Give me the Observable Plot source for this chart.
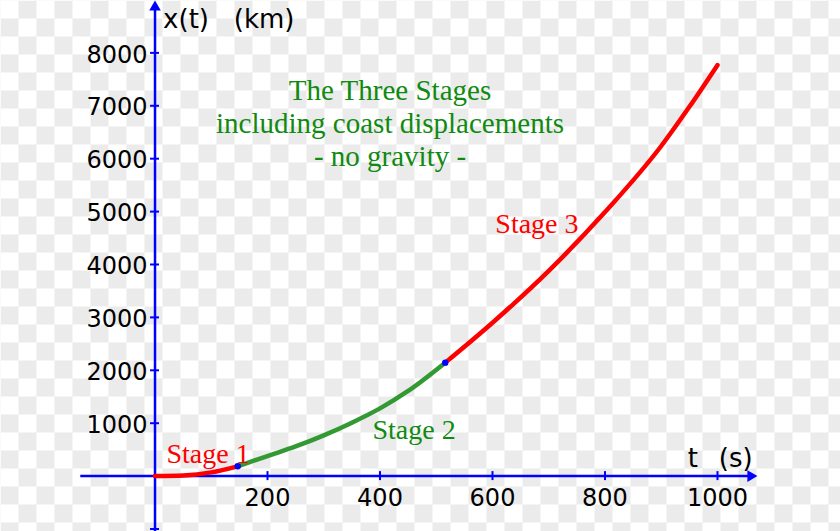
<!DOCTYPE html>
<html><head><meta charset="utf-8">
<script src="https://cdn.jsdelivr.net/npm/d3@7"></script>
<script src="https://cdn.jsdelivr.net/npm/@observablehq/plot@0.6"></script>
<style>
html,body{margin:0;padding:0;background:#ffffff;}
body{width:840px;height:531px;overflow:hidden;}
#chart svg{display:block;}
</style></head><body><div id="chart"></div>
<script>
// ---- data ----
const stage1T = [0, 50, 100, 147];
const stage1X = [0, 12, 70, 185];
const stage2T = [147, 200, 250, 300, 350, 400, 450, 516];
const stage2X = [185, 380, 560, 770, 1010, 1280, 1610, 2145];
const stage3T = [516, 600, 700, 800, 900, 950, 1000];
const stage3X = [2145, 2900, 3880, 4990, 6240, 6980, 7770];
const xTickValues = [200, 400, 600, 800, 1000];
const yTickValues = [-1000, 1000, 2000, 3000, 4000, 5000, 6000, 7000, 8000];
const yTickLabels = [1000, 2000, 3000, 4000, 5000, 6000, 7000, 8000];
const titleLines = ["The Three Stages", "including coast displacements", "- no gravity -"];
const stageNames = ["Stage 1", "Stage 2", "Stage 3"];

const toRows = (T, X) => T.map((t, i) => ({t, x: X[i]}));
const s1 = toRows(stage1T, stage1X);
const s2 = toRows(stage2T, stage2X);
const s3 = toRows(stage3T, stage3X);
const joints = [s1[s1.length - 1], s3[0]];

const BLUE = "#0000ff", RED = "#ff0000", GREEN_LINE = "#339933", GREEN_TEXT = "#108a10";
const SANS = "DejaVu Sans, Verdana, sans-serif";
const SERIF = "Liberation Serif, Times New Roman, serif";

const chart = Plot.plot({
  width: 840, height: 531,
  margin: 0,
  x: {domain: [-274.7, 1218.7], axis: null},
  y: {domain: [-1047, 8990], axis: null},
  style: {background: "#ffffff", fontFamily: SANS},
  marks: [
    // transparent-image checkerboard backdrop
    Plot.frame({fill: "url(#checker-bg)", stroke: "none"}),
    // axes
    Plot.ruleY([0], {x1: -132, x2: 1062, stroke: BLUE, strokeWidth: 2.5}),
    Plot.ruleX([0], {y1: -1047, y2: 8850, stroke: BLUE, strokeWidth: 2.5}),
    Plot.dot([0], {x: 1071, y: 0, symbol: "triangle", r: 4.3, fill: BLUE, rotate: 90, dx: -6.7}),
    Plot.dot([0], {x: 0, y: 8990, symbol: "triangle", r: 4.3, fill: BLUE, dy: 6.7}),
    // ticks
    Plot.ruleX(xTickValues, {x: d => d, y1: 0, y2: 0, insetTop: -4.5, insetBottom: -4.5, stroke: BLUE, strokeWidth: 2}),
    Plot.ruleY(yTickValues, {y: d => d, x1: 0, x2: 0, insetLeft: -4.5, insetRight: -4.5, stroke: BLUE, strokeWidth: 2}),
    // tick labels
    Plot.text(xTickValues, {x: d => d, y: 0, text: d => String(d), dy: 30, lineAnchor: "bottom", fontSize: 24, fill: "#000"}),
    Plot.text(yTickLabels, {x: 0, y: d => d, text: d => String(d), textAnchor: "end", dx: -7.5, dy: 2, lineAnchor: "middle", fontSize: 24, fill: "#000"}),
    // axis labels
    Plot.text(["x(t)\u00a0\u00a0\u00a0(km)"], {x: 14.4, y: 8474, text: d => d, textAnchor: "start", lineAnchor: "bottom", fontSize: 26, fill: "#000"}),
    Plot.text(["t"], {x: 947.2, y: 181, text: d => d, textAnchor: "start", lineAnchor: "bottom", fontSize: 26, fill: "#000"}),
    Plot.text(["(s)"], {x: 1002.3, y: 181, text: d => d, textAnchor: "start", lineAnchor: "bottom", fontSize: 26, fill: "#000"}),
    // curve
    Plot.line(s1, {x: "t", y: "x", stroke: RED, strokeWidth: 4.5, curve: "monotone-x"}),
    Plot.line(s2, {x: "t", y: "x", stroke: GREEN_LINE, strokeWidth: 4.5, curve: "monotone-x"}),
    Plot.line(s3, {x: "t", y: "x", stroke: RED, strokeWidth: 4.5, curve: "monotone-x"}),
    Plot.dot(joints, {x: "t", y: "x", r: 3.2, fill: BLUE}),
    // annotations
    Plot.text([titleLines.join("\n")], {x: 417.8, y: 5860, text: d => d, textAnchor: "middle", lineAnchor: "bottom", lineHeight: 1.138, fontSize: 29, fontFamily: SERIF, fill: GREEN_TEXT}),
    Plot.text([stageNames[0]], {x: 20.4, y: 257, text: d => d, textAnchor: "start", lineAnchor: "bottom", fontSize: 28, fontFamily: SERIF, fill: RED}),
    Plot.text([stageNames[1]], {x: 386.7, y: 692, text: d => d, textAnchor: "start", lineAnchor: "bottom", fontSize: 28, fontFamily: SERIF, fill: GREEN_TEXT}),
    Plot.text([stageNames[2]], {x: 605, y: 4602, text: d => d, textAnchor: "start", lineAnchor: "bottom", fontSize: 28, fontFamily: SERIF, fill: RED})
  ]
});

// pattern definition for the checkerboard backdrop
const svg = d3.select(chart);
const defs = svg.insert("defs", ":first-child");
const pat = defs.append("pattern")
  .attr("id", "checker-bg")
  .attr("patternUnits", "userSpaceOnUse")
  .attr("x", 0).attr("y", 0)
  .attr("width", 36).attr("height", 36);
pat.append("rect").attr("width", 36).attr("height", 36).attr("fill", "#ffffff");
pat.append("rect").attr("x", 18).attr("y", 0).attr("width", 18).attr("height", 18).attr("fill", "#ebebeb");
pat.append("rect").attr("x", 0).attr("y", 18).attr("width", 18).attr("height", 18).attr("fill", "#ebebeb");

document.getElementById("chart").appendChild(chart);
</script>
</body></html>
